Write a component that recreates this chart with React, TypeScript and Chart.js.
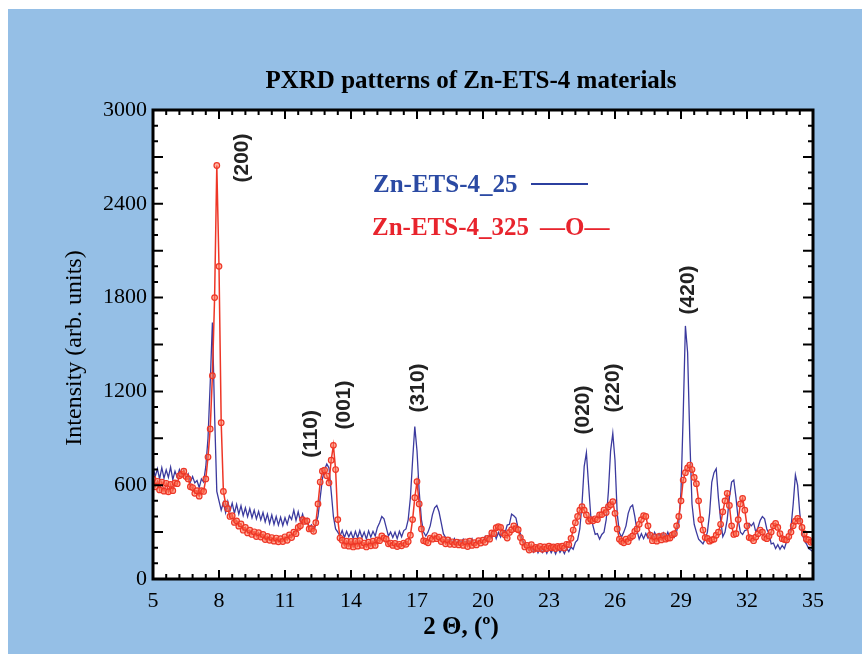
import React, { useEffect, useRef } from 'react';
import { Chart, registerables } from 'chart.js';

Chart.register(...registerables);

// Scan grid: 2θ from 5° to 35° in 0.1° steps
const SCAN_START = 5;
const SCAN_STEP = 0.1;

// Zn-ETS-4_25 intensities (arb. units), one row per degree
const zn25 = [
  720, 655, 705, 640, 712, 645, 698, 650, 715, 635,
  690, 650, 700, 660, 695, 640, 672, 620, 655, 615,
  630, 585, 640, 620, 720, 900, 1250, 1640, 1050, 560,
  500, 440, 490, 425, 495, 435, 485, 420, 478, 415,
  468, 405, 455, 398, 450, 392, 440, 385, 432, 378,
  425, 365, 415, 355, 410, 350, 400, 345, 395, 342,
  392, 350, 405, 380, 440, 375, 430, 370, 415, 360,
  385, 330, 345, 305, 350, 400, 520, 640, 700, 735,
  710, 560, 400, 320, 300, 275, 310, 265, 305, 270,
  300, 258, 305, 262, 310, 265, 300, 255, 308, 268,
  305, 275, 330, 360, 400, 385, 330, 275, 300, 265,
  300, 258, 305, 270, 310, 320, 380, 520, 760, 975,
  820, 560, 380, 300, 275, 300, 340, 410, 455, 470,
  430, 360, 290, 265, 240, 262, 230, 258, 225, 250,
  232, 255, 220, 252, 228, 258, 215, 250, 225, 255,
  240, 272, 238, 285, 262, 305, 258, 298, 268, 310,
  295, 345, 350, 415, 405, 390, 320, 290, 245, 225,
  205, 180, 210, 172, 205, 168, 200, 170, 198, 165,
  200, 168, 195, 160, 200, 170, 192, 162, 198, 175,
  205, 190, 235, 250, 320, 480, 720, 808, 600, 400,
  340, 285, 290, 255, 285, 300, 380, 560, 820, 932,
  760, 420, 295, 268, 300, 340, 420, 460, 473, 400,
  310, 255, 290, 258, 292, 262, 295, 255, 298, 265,
  290, 258, 295, 262, 300, 260, 298, 268, 305, 360,
  560, 1050, 1619, 1450, 900, 480, 350, 300, 255, 240,
  225, 255, 300, 420, 620, 680, 705, 520, 380, 270,
  300, 380, 520, 620, 633, 520, 380, 300, 285, 310,
  315, 355, 340, 360, 300, 330, 375, 400, 385, 320,
  290, 225, 230, 195, 220, 190, 215, 195, 240, 260,
  330, 480, 665, 600, 420, 300, 245, 225, 195, 185,
  175,
];

// Zn-ETS-4_325 intensities (arb. units), one row per degree
const zn325 = [
  640, 590, 625, 570, 620, 562, 612, 558, 605, 565,
  615, 610, 660, 670, 690, 655, 640, 590, 585, 548,
  565, 530, 565, 560, 640, 780, 960, 1300, 1800, 2645,
  2000, 1000, 560, 480, 450, 400, 405, 362, 372, 338,
  352, 312, 330, 295, 312, 285, 302, 272, 296, 268,
  285, 252, 272, 248, 265, 242, 262, 238, 258, 240,
  270, 248, 282, 265, 300, 290, 330, 340, 380, 368,
  372, 320, 322, 305, 360, 480, 620, 690, 697, 660,
  615, 760, 855, 700, 380, 262, 248, 215, 242, 210,
  240, 205, 242, 210, 245, 215, 230, 205, 235, 212,
  242, 215, 250, 245, 275, 262, 255, 225, 230, 215,
  228, 208, 222, 212, 230, 222, 240, 280, 380, 520,
  623, 480, 320, 245, 240, 232, 262, 255, 278, 258,
  268, 240, 252, 225, 250, 222, 238, 220, 235, 218,
  232, 215, 238, 208, 242, 215, 232, 218, 245, 230,
  248, 235, 260, 255, 295, 290, 328, 335, 330, 295,
  282, 262, 298, 315, 340, 322, 315, 265, 235, 205,
  215, 185, 220, 190, 202, 195, 208, 190, 205, 195,
  210, 200, 205, 195, 208, 202, 210, 198, 222, 220,
  260, 313, 360, 400, 440, 463, 440, 410, 370, 380,
  372, 385, 380, 410, 412, 441, 425, 462, 475, 495,
  420, 320, 255, 240, 232, 255, 240, 265, 275, 305,
  320, 350, 380, 405, 400, 340, 280, 245, 270, 242,
  272, 250, 278, 255, 262, 262, 282, 290, 340, 400,
  500, 633, 680, 710, 729, 700, 650, 610, 500, 380,
  313, 265, 260, 242, 250, 255, 280, 300, 350, 430,
  500, 548, 470, 340, 285, 290, 380, 480, 516, 440,
  340, 265, 260, 245, 268, 290, 313, 300, 265, 258,
  275, 300, 340, 356, 330, 290, 258, 252, 250, 272,
  300, 340, 370, 388, 370, 330, 290, 255, 250, 235,
  239,
];

// Axis ranges and tick spacing
const X_MIN = 5;
const X_MAX = 35;
const X_STEP = 3;
const X_MINOR = 0.6;
const Y_MIN = 0;
const Y_MAX = 3000;
const Y_STEP = 600;
const Y_MID = 300;
const Y_MINOR = 100;

// Reflection indices and where their labels sit (2θ, intensity)
const reflections = ['(200)', '(110)', '(001)', '(310)', '(020)', '(220)', '(420)'];
const reflectionAt = [9.07, 12.2, 13.68, 17.07, 24.55, 25.91, 29.32];
const reflectionLevel = [2693, 928, 1113, 1222, 1081, 1222, 1849];

const TITLE = 'PXRD patterns of Zn-ETS-4 materials';
const X_TITLE = '2 \u0398, (\u00BA)';
const Y_TITLE = 'Intensity (arb. units)';

const BLUE = '#3b3a9e';
const RED = '#ee3626';
const SERIF = '"Liberation Serif", "Times New Roman", serif';
const SANS = '"Liberation Sans", Arial, sans-serif';

const twoTheta = zn25.map((_, i) => +(SCAN_START + i * SCAN_STEP).toFixed(1));

const framePlugin = {
  id: 'pxrdFrame',
  beforeDatasetsDraw(chart: any) {
    const { ctx, chartArea: a } = chart;
    ctx.save();
    ctx.fillStyle = '#ffffff';
    ctx.fillRect(a.left, a.top, a.right - a.left, a.bottom - a.top);
    ctx.restore();
  },
  afterDatasetsDraw(chart: any) {
    const { ctx, chartArea: a, scales } = chart;
    const xs = scales.x;
    const ys = scales.y;
    ctx.save();
    ctx.strokeStyle = '#000';
    ctx.lineWidth = 2;
    ctx.lineCap = 'butt';

    // inward tick marks on all four sides
    ctx.beginPath();
    for (let k = 0; X_MIN + k * X_MINOR <= X_MAX + 1e-9; k++) {
      const v = X_MIN + k * X_MINOR;
      const r = (v - X_MIN) / X_STEP;
      const major = Math.abs(r - Math.round(r)) < 1e-6;
      const len = major ? 9 : 5;
      const px = xs.getPixelForValue(v);
      ctx.moveTo(px, a.bottom);
      ctx.lineTo(px, a.bottom - len);
      ctx.moveTo(px, a.top);
      ctx.lineTo(px, a.top + len);
    }
    for (let v = Y_MIN; v <= Y_MAX; v += Y_MINOR) {
      const len = v % Y_MID === 0 ? 10 : 5;
      const py = ys.getPixelForValue(v);
      ctx.moveTo(a.left, py);
      ctx.lineTo(a.left + len, py);
      ctx.moveTo(a.right, py);
      ctx.lineTo(a.right - len, py);
    }
    ctx.stroke();

    // frame
    ctx.lineWidth = 3;
    ctx.strokeRect(a.left, a.top, a.right - a.left, a.bottom - a.top);

    // reflection labels
    ctx.fillStyle = '#222';
    ctx.font = `bold 21px ${SANS}`;
    ctx.textAlign = 'center';
    ctx.textBaseline = 'middle';
    reflections.forEach((hkl, i) => {
      const px = xs.getPixelForValue(reflectionAt[i]);
      const py = ys.getPixelForValue(reflectionLevel[i]);
      ctx.save();
      ctx.translate(px, py);
      ctx.rotate(-Math.PI / 2);
      ctx.fillText(hkl, 0, 0);
      ctx.restore();
    });

    // series key
    ctx.textAlign = 'left';
    ctx.textBaseline = 'alphabetic';
    ctx.font = `bold 25px ${SERIF}`;
    ctx.fillStyle = '#2b4aa3';
    ctx.fillText('Zn-ETS-4_25', 365, 183);
    ctx.strokeStyle = '#2b3f9f';
    ctx.lineWidth = 2;
    ctx.beginPath();
    ctx.moveTo(523, 175);
    ctx.lineTo(580, 175);
    ctx.stroke();
    ctx.fillStyle = '#e8242d';
    ctx.fillText('Zn-ETS-4_325', 364, 226);
    ctx.fillText('\u2014O\u2014', 532, 226);

    ctx.restore();
  },
  afterDraw(chart: any) {
    const { ctx } = chart;
    ctx.save();
    ctx.fillStyle = '#000';
    ctx.textAlign = 'center';
    ctx.textBaseline = 'alphabetic';
    ctx.font = `bold 25px ${SERIF}`;
    ctx.fillText(TITLE, 463, 79);

    ctx.textBaseline = 'middle';
    ctx.font = `bold 25px ${SERIF}`;
    ctx.fillText(X_TITLE, 453, 619);

    ctx.font = `24px ${SERIF}`;
    ctx.translate(67, 339);
    ctx.rotate(-Math.PI / 2);
    ctx.fillText(Y_TITLE, 0, 0);
    ctx.restore();
  },
};

export default function App() {
  const canvasRef = useRef<HTMLCanvasElement | null>(null);

  useEffect(() => {
    const canvas = canvasRef.current;
    if (!canvas) return;
    const chart = new Chart(canvas, {
      type: 'line',
      data: {
        datasets: [
          {
            label: 'Zn-ETS-4_325',
            data: twoTheta.map((t, i) => ({ x: t, y: zn325[i] })),
            borderColor: RED,
            borderWidth: 1.5,
            pointRadius: 2.8,
            pointBorderWidth: 1.2,
            pointBorderColor: RED,
            pointBackgroundColor: 'rgba(255, 120, 90, 0.55)',
            tension: 0,
            order: 0,
          },
          {
            label: 'Zn-ETS-4_25',
            data: twoTheta.map((t, i) => ({ x: t, y: zn25[i] })),
            borderColor: BLUE,
            borderWidth: 1.3,
            pointRadius: 0,
            tension: 0,
            order: 1,
          },
        ],
      },
      options: {
        responsive: false,
        animation: false,
        events: [],
        layout: { padding: { top: 101, right: 49, left: 0, bottom: 0 } },
        plugins: {
          legend: { display: false },
          tooltip: { enabled: false },
          title: { display: false },
        },
        scales: {
          x: {
            type: 'linear',
            min: X_MIN,
            max: X_MAX,
            grid: { display: false, drawTicks: false },
            border: { display: false },
            ticks: {
              stepSize: X_STEP,
              autoSkip: false,
              maxRotation: 0,
              padding: 9,
              color: '#000',
              font: { family: SERIF, size: 22 },
              callback: (v: any) => String(v),
            },
            afterFit: (s: any) => {
              s.height = 75;
            },
          },
          y: {
            type: 'linear',
            min: Y_MIN,
            max: Y_MAX,
            grid: { display: false, drawTicks: false },
            border: { display: false },
            ticks: {
              stepSize: Y_STEP,
              padding: 6,
              color: '#000',
              font: { family: SERIF, size: 22 },
              callback: (v: any) => String(v),
            },
            afterFit: (s: any) => {
              s.width = 145;
            },
          },
        },
      },
      plugins: [framePlugin],
    });
    return () => chart.destroy();
  }, []);

  return (
    <div
      style={{
        position: 'absolute',
        left: 8,
        top: 9,
        width: 854,
        height: 645,
        background: '#95bfe6',
      }}
    >
      <canvas ref={canvasRef} width={854} height={645} style={{ display: 'block' }} />
    </div>
  );
}
